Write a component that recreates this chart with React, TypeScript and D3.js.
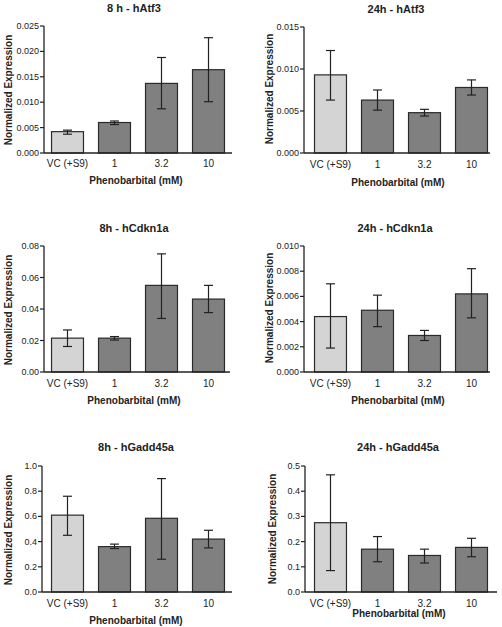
import React from "react";
import * as d3 from "d3";

const categories = ["VC (+S9)", "1", "3.2", "10"];
const titles = ["8 h - hAtf3", "24h - hAtf3", "8h - hCdkn1a", "24h - hCdkn1a", "8h - hGadd45a", "24h - hGadd45a"];

// means per panel
const atf3_8h = [0.0042, 0.006, 0.0137, 0.0164];
const atf3_24h = [0.0093, 0.0063, 0.0048, 0.0078];
const cdkn1a_8h = [0.0215, 0.0215, 0.055, 0.0463];
const cdkn1a_24h = [0.0044, 0.0049, 0.0029, 0.0062];
const gadd45a_8h = [0.61, 0.36, 0.585, 0.42];
const gadd45a_24h = [0.275, 0.17, 0.145, 0.177];

// error bar low / high
const atf3_8h_lo = [0.0037, 0.0056, 0.0087, 0.0101];
const atf3_8h_hi = [0.0045, 0.0063, 0.0188, 0.0227];
const atf3_24h_lo = [0.0063, 0.0051, 0.0044, 0.0069];
const atf3_24h_hi = [0.0122, 0.0075, 0.0052, 0.0087];
const cdkn1a_8h_lo = [0.0162, 0.0203, 0.034, 0.0377];
const cdkn1a_8h_hi = [0.0267, 0.0225, 0.075, 0.055];
const cdkn1a_24h_lo = [0.0019, 0.0036, 0.0025, 0.0043];
const cdkn1a_24h_hi = [0.007, 0.0061, 0.0033, 0.0082];
const gadd45a_8h_lo = [0.45, 0.345, 0.26, 0.35];
const gadd45a_8h_hi = [0.76, 0.38, 0.9, 0.49];
const gadd45a_24h_lo = [0.085, 0.12, 0.115, 0.14];
const gadd45a_24h_hi = [0.465, 0.22, 0.17, 0.213];

// y-axis maxima, tick steps and decimals
const yMax = [0.025, 0.015, 0.08, 0.01, 1.0, 0.5];
const yStep = [0.005, 0.005, 0.02, 0.002, 0.2, 0.1];
const yDecimals = [3, 3, 2, 3, 1, 1];

const xTitle = "Phenobarbital (mM)";
const yTitle = "Normalized Expression";

const means = [atf3_8h, atf3_24h, cdkn1a_8h, cdkn1a_24h, gadd45a_8h, gadd45a_24h];
const los = [atf3_8h_lo, atf3_24h_lo, cdkn1a_8h_lo, cdkn1a_24h_lo, gadd45a_8h_lo, gadd45a_24h_lo];
const his = [atf3_8h_hi, atf3_24h_hi, cdkn1a_8h_hi, cdkn1a_24h_hi, gadd45a_8h_hi, gadd45a_24h_hi];

// layout per panel
const layouts = [
  { ax: 44, bx: 44, end: 232, top: 26, bottom: 153, tx: 134, ty: 12, cy: 167, xty: 184, xtx: 136, ytx: 12, yty: 90 },
  { ax: 304, bx: 307, end: 490, top: 27, bottom: 153, tx: 396, ty: 13, cy: 168, xty: 186, xtx: 398, ytx: 273, yty: 89 },
  { ax: 44, bx: 44, end: 230, top: 246, bottom: 372, tx: 134, ty: 232, cy: 387, xty: 404, xtx: 134, ytx: 12, yty: 310 },
  { ax: 304, bx: 307, end: 490, top: 246, bottom: 372, tx: 395, ty: 232, cy: 387, xty: 404, xtx: 398, ytx: 273, yty: 308 },
  { ax: 42, bx: 44, end: 232, top: 466, bottom: 592, tx: 136, ty: 451, cy: 607, xty: 624, xtx: 136, ytx: 12, yty: 530 },
  { ax: 305, bx: 307, end: 497, top: 466, bottom: 592, tx: 398, ty: 451, cy: 607, xty: 617, xtx: 399, ytx: 276, yty: 529 },
];

const FONT = "'Liberation Sans', Arial, sans-serif";
const INK = "#222";

function Panel({ i }: { i: number }) {
  const L = layouts[i];
  const x = d3.scaleBand<string>().domain(categories).range([L.bx, L.bx + 188]).paddingInner(0.32).paddingOuter(0.16);
  const y = d3.scaleLinear().domain([0, yMax[i]]).range([L.bottom, L.top]);
  const ticks = d3.range(0, yMax[i] + yStep[i] / 2, yStep[i]);
  const fmt = d3.format(`.${yDecimals[i]}f`);
  const bw = x.bandwidth();
  const cap = 4.5;
  return (
    <g>
      <text x={L.tx} y={L.ty} textAnchor="middle" fontSize={11} fontWeight="bold" fill={INK} fontFamily={FONT}>
        {titles[i]}
      </text>
      {means[i].map((m, k) => {
        const cx = (x(categories[k]) as number) + bw / 2;
        return (
          <g key={k}>
            <rect
              x={x(categories[k])}
              y={y(m)}
              width={bw}
              height={L.bottom - y(m)}
              fill={k === 0 ? "#d4d4d4" : "#808080"}
              stroke="#2a2a2a"
              strokeWidth={1.2}
            />
            <line x1={cx} x2={cx} y1={y(los[i][k])} y2={y(his[i][k])} stroke={INK} strokeWidth={1.2} />
            <line x1={cx - cap} x2={cx + cap} y1={y(his[i][k])} y2={y(his[i][k])} stroke={INK} strokeWidth={1.2} />
            <line x1={cx - cap} x2={cx + cap} y1={y(los[i][k])} y2={y(los[i][k])} stroke={INK} strokeWidth={1.2} />
            <text x={cx} y={L.cy} textAnchor="middle" fontSize={10} fill={INK} fontFamily={FONT}>
              {categories[k]}
            </text>
          </g>
        );
      })}
      <line x1={L.ax} x2={L.ax} y1={L.top} y2={L.bottom} stroke={INK} strokeWidth={1.3} />
      <line x1={L.ax} x2={L.end} y1={L.bottom} y2={L.bottom} stroke={INK} strokeWidth={1.3} />
      {ticks.map((t, k) => (
        <g key={k}>
          <line x1={L.ax - 4} x2={L.ax} y1={y(t)} y2={y(t)} stroke={INK} strokeWidth={1.2} />
          <text x={L.ax - 5} y={y(t) + 3} textAnchor="end" fontSize={9} fill={INK} fontFamily={FONT}>
            {fmt(t)}
          </text>
        </g>
      ))}
      <text x={L.xtx} y={L.xty} textAnchor="middle" fontSize={10} fontWeight="bold" fill={INK} fontFamily={FONT}>
        {xTitle}
      </text>
      <text
        transform={`translate(${L.ytx},${L.yty}) rotate(-90)`}
        textAnchor="middle"
        fontSize={10}
        fontWeight="bold"
        fill={INK}
        fontFamily={FONT}
      >
        {yTitle}
      </text>
    </g>
  );
}

export default function App() {
  return (
    <svg
      width={502}
      height={627}
      style={{ position: "absolute", left: 0, top: 0, background: "#fff" }}
      viewBox="0 0 502 627"
    >
      <rect x={0} y={0} width={502} height={627} fill="#fff" />
      {means.map((_, i) => (
        <Panel key={i} i={i} />
      ))}
    </svg>
  );
}
